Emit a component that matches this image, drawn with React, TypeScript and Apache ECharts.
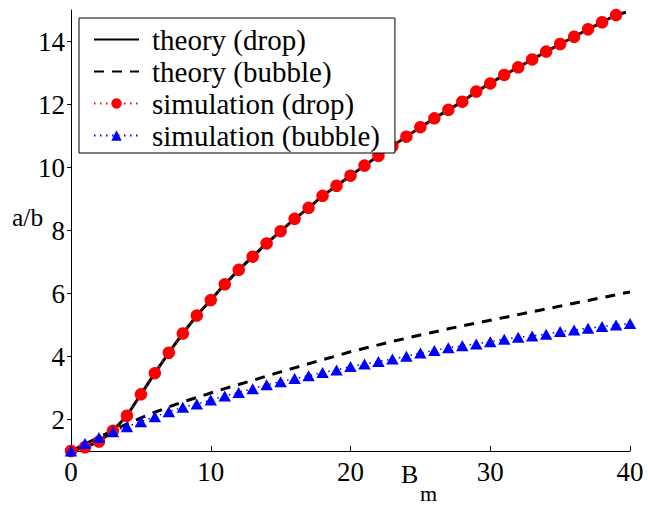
import React, { useEffect, useRef } from "react";
import * as echarts from "echarts";

const simX = Array.from({ length: 41 }, (_, i) => i);

const dropSim = [1.0, 1.12, 1.30, 1.64, 2.12, 2.80, 3.47, 4.12, 4.73, 5.30, 5.79, 6.29, 6.75, 7.17, 7.59, 7.98, 8.37, 8.72, 9.10, 9.42, 9.74, 10.06, 10.37, 10.68, 10.98, 11.28, 11.56, 11.83, 12.09, 12.41, 12.67, 12.94, 13.18, 13.43, 13.68, 13.92, 14.15, 14.39, 14.61, 14.84];

const dropTheoryX = [0, 1, 2, 3, 4, 5, 6, 7, 8, 9, 10, 11, 12, 13, 14, 15, 16, 17, 18, 19, 20, 21, 22, 23, 24, 25, 26, 27, 28, 29, 30, 31, 32, 33, 34, 35, 36, 37, 38, 39, 39.7];
const dropTheory = [1.0, 1.12, 1.30, 1.64, 2.12, 2.80, 3.47, 4.12, 4.73, 5.30, 5.79, 6.29, 6.75, 7.17, 7.59, 7.98, 8.37, 8.72, 9.10, 9.42, 9.74, 10.06, 10.37, 10.68, 10.98, 11.28, 11.56, 11.83, 12.09, 12.41, 12.67, 12.94, 13.18, 13.43, 13.68, 13.92, 14.15, 14.39, 14.61, 14.84, 14.93];

const bubbleTheory = [1.0, 1.22, 1.44, 1.65, 1.86, 2.05, 2.23, 2.40, 2.56, 2.70, 2.84, 2.98, 3.11, 3.24, 3.38, 3.51, 3.64, 3.77, 3.90, 4.02, 4.15, 4.26, 4.37, 4.48, 4.58, 4.68, 4.78, 4.88, 4.97, 5.06, 5.15, 5.24, 5.33, 5.42, 5.51, 5.60, 5.69, 5.78, 5.87, 5.96, 6.05];

const bubbleSim = [1.0, 1.24, 1.43, 1.61, 1.77, 1.93, 2.09, 2.25, 2.39, 2.49, 2.62, 2.75, 2.86, 2.98, 3.10, 3.20, 3.30, 3.39, 3.49, 3.57, 3.68, 3.76, 3.84, 3.92, 4.01, 4.11, 4.19, 4.28, 4.34, 4.40, 4.47, 4.55, 4.61, 4.65, 4.71, 4.79, 4.84, 4.90, 4.95, 5.00, 5.05];

const xTicks = [0, 10, 20, 30, 40];
const yTicks = [2, 4, 6, 8, 10, 12, 14];

const seriesNames = ["theory (drop)", "theory (bubble)", "simulation (drop)", "simulation (bubble)"];

const SERIF = "Liberation Serif";

export default function App() {
  const ref = useRef<HTMLDivElement>(null);
  useEffect(() => {
    if (!ref.current) return;
    const chart = echarts.init(ref.current, undefined, { renderer: "svg" });
    const zip = (xs: number[], ys: number[]) => ys.map((y, i) => [xs[i], y]);
    chart.setOption({
      animation: false,
      backgroundColor: "#ffffff",
      textStyle: { fontFamily: SERIF },
      grid: { left: 71, right: 18, top: 10, bottom: 56, containLabel: false },
      xAxis: {
        type: "value",
        min: 0,
        max: 40,
        interval: 10,
        axisLine: { lineStyle: { color: "#000", width: 1 } },
        axisTick: { inside: true, length: 5, lineStyle: { color: "#000" }, customValues: xTicks },
        axisLabel: { color: "#000", fontFamily: SERIF, fontSize: 27, margin: 7, customValues: xTicks },
        splitLine: { show: false },
      },
      yAxis: {
        type: "value",
        min: 1,
        max: 15,
        axisLine: { show: true, lineStyle: { color: "#000", width: 1 } },
        axisTick: { show: true, inside: false, length: 4, lineStyle: { color: "#000" }, customValues: yTicks },
        axisLabel: { color: "#000", fontFamily: SERIF, fontSize: 27, margin: 6, customValues: yTicks },
        splitLine: { show: false },
      },
      legend: {
        orient: "vertical",
        left: 79,
        top: 18,
        data: [
          { name: seriesNames[0], itemStyle: { opacity: 0 } },
          { name: seriesNames[1], itemStyle: { opacity: 0 } },
          { name: seriesNames[2] },
          { name: seriesNames[3] },
        ],
        backgroundColor: "#fff",
        borderColor: "#000",
        borderWidth: 1,
        borderRadius: 0,
        padding: [7, 15, 3, 14],
        itemWidth: 45,
        itemHeight: 13,
        itemGap: 3,
        textStyle: { color: "#000", fontFamily: SERIF, fontSize: 29, lineHeight: 29, padding: [0, 0, 0, 8] },
      },
      series: [
        {
          name: seriesNames[0],
          type: "line",
          data: zip(dropTheoryX, dropTheory),
          symbol: "none",
          lineStyle: { color: "#000", width: 3 },
          itemStyle: { color: "#000" },
          z: 2,
        },
        {
          name: seriesNames[1],
          type: "line",
          data: zip(simX, bubbleTheory),
          symbol: "none",
          lineStyle: { color: "#000", width: 3, type: [10, 8] },
          itemStyle: { color: "#000" },
          z: 2,
        },
        {
          name: seriesNames[2],
          type: "line",
          data: zip(simX, dropSim),
          symbol: "circle",
          symbolSize: 12.5,
          lineStyle: { color: "#ff0000", width: 1.5, type: [1.5, 4.5] },
          itemStyle: { color: "#ff0000" },
          z: 3,
        },
        {
          name: seriesNames[3],
          type: "line",
          data: zip(simX, bubbleSim),
          symbol: "triangle",
          symbolSize: [12.5, 11],
          lineStyle: { color: "#0000ff", width: 1.5, type: [1.5, 4.5] },
          itemStyle: { color: "#0000ff" },
          z: 3,
        },
      ],
      graphic: [
        { type: "text", left: 12, top: 204, style: { text: "a/b", fontFamily: SERIF, fontSize: 25.5, fill: "#000" } },
        { type: "text", left: 401, top: 461, style: { text: "B", fontFamily: SERIF, fontSize: 26, fill: "#000" } },
        { type: "text", left: 420, top: 482, style: { text: "m", fontFamily: SERIF, fontSize: 22, fill: "#000" } },
      ],
    });
    return () => chart.dispose();
  }, []);
  return <div ref={ref} style={{ position: "absolute", left: 0, top: 0, width: 648, height: 507 }} />;
}
